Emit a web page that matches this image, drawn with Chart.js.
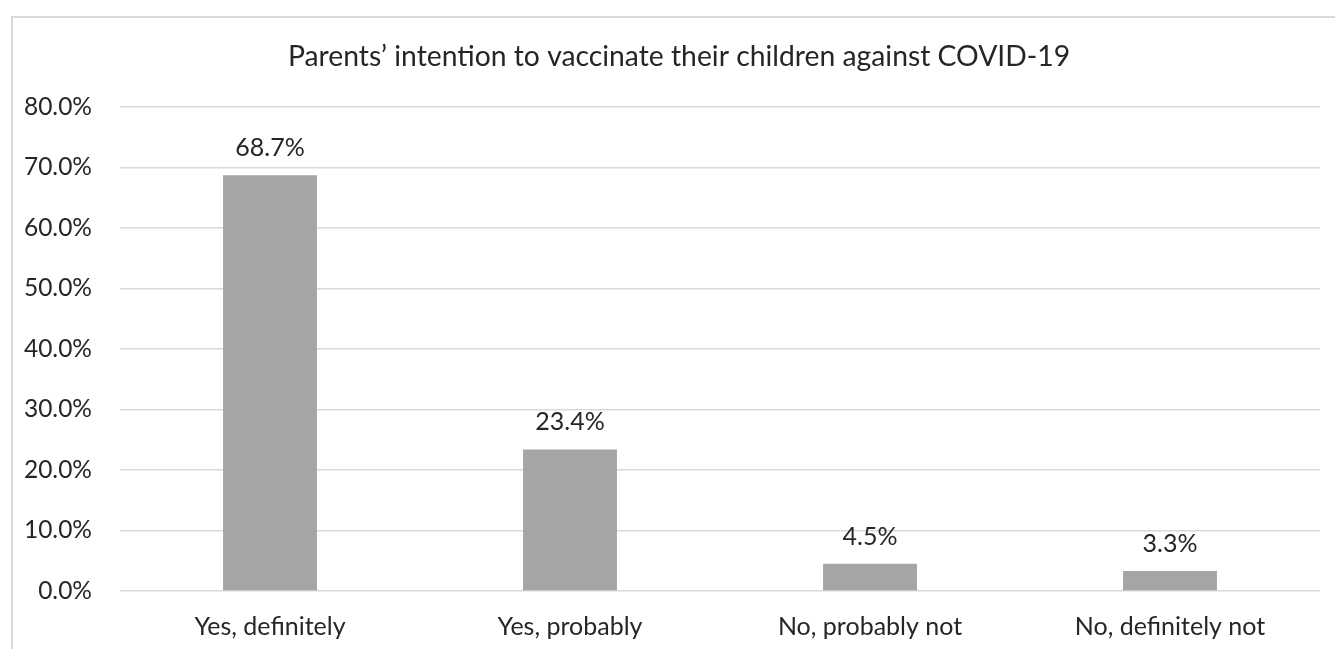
<!DOCTYPE html>
<html>
<head>
<meta charset="utf-8">
<script src="https://cdn.jsdelivr.net/npm/chart.js@4/dist/chart.umd.min.js"></script>
<style>
  html, body { margin: 0; padding: 0; background: #ffffff; overflow: hidden; }
  #frame {
    position: absolute; left: 11px; top: 16px;
    width: 1400px; height: 700px;
    border: 2px solid #d9d9d9; box-sizing: border-box;
  }
  #wrap { position: absolute; left: 0; top: 0; width: 1335px; height: 649px; }
</style>
</head>
<body>
<div id="frame"></div>
<div id="wrap"><canvas id="chart" width="1335" height="649"></canvas></div>
<script>
const chartTitle = 'Parents\u2019 intention to vaccinate their children against COVID-19';
const categories = ['Yes, definitely', 'Yes, probably', 'No, probably not', 'No, definitely not'];
const shares = [68.7, 23.4, 4.5, 3.3];
const yTicks = [0, 10, 20, 30, 40, 50, 60, 70, 80];

const FONT = 'Lato, "Open Sans", sans-serif';
const TEXT = '#262626';

// Title centred over the chart block
const titlePlugin = {
  id: 'headline',
  afterDraw(chart) {
    const ctx = chart.ctx;
    ctx.save();
    ctx.font = '28.3px ' + FONT;
    ctx.fillStyle = TEXT;
    ctx.textAlign = 'center';
    ctx.textBaseline = 'alphabetic';
    ctx.fillText(chartTitle, 679, 66);
    ctx.restore();
  }
};

// Percentage labels above each bar
const valueLabels = {
  id: 'valueLabels',
  afterDatasetsDraw(chart) {
    const ctx = chart.ctx;
    const meta = chart.getDatasetMeta(0);
    ctx.save();
    ctx.font = '25px ' + FONT;
    ctx.fillStyle = TEXT;
    ctx.textAlign = 'center';
    ctx.textBaseline = 'alphabetic';
    meta.data.forEach((bar, i) => {
      ctx.fillText(shares[i].toFixed(1) + '%', bar.x, bar.y - 19);
    });
    ctx.restore();
  }
};

new Chart(document.getElementById('chart'), {
  type: 'bar',
  data: {
    labels: categories,
    datasets: [{
      data: shares,
      backgroundColor: '#a5a5a5',
      borderWidth: 0,
      categoryPercentage: 1,
      barPercentage: 0.313
    }]
  },
  options: {
    responsive: false,
    animation: false,
    layout: { padding: { top: 107, right: 15, left: 0, bottom: 0 } },
    plugins: {
      legend: { display: false },
      title: { display: false },
      tooltip: { enabled: false }
    },
    scales: {
      x: {
        grid: { display: false },
        border: { display: false },
        ticks: { color: TEXT, font: { family: FONT, size: 25 }, padding: 13, maxRotation: 0 },
        afterFit(scale) { scale.height = 58; }
      },
      y: {
        min: 0,
        max: 80,
        afterBuildTicks(scale) { scale.ticks = yTicks.map(v => ({ value: v })); },
        grid: { color: '#d9d9d9', lineWidth: 1.5, drawTicks: false },
        border: { display: false },
        ticks: {
          color: TEXT,
          font: { family: FONT, size: 24.5 },
          padding: 28,
          callback: v => v.toFixed(1) + '%'
        },
        afterFit(scale) { scale.width = 120; }
      }
    }
  },
  plugins: [titlePlugin, valueLabels]
});
</script>
</body>
</html>
